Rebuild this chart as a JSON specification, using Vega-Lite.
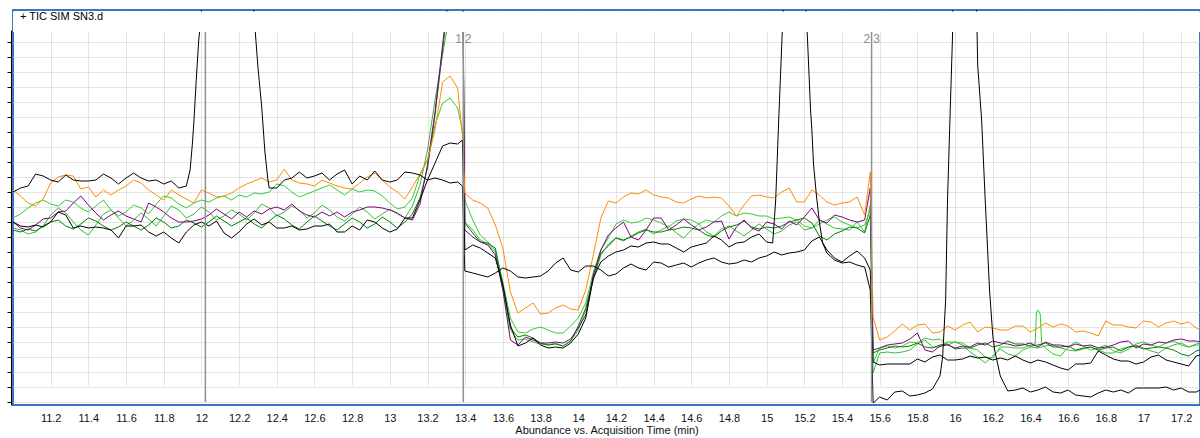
{
"$schema": "https://vega.github.io/schema/vega-lite/v6.json",
"width": 1187, "height": 395,
"autosize": {"type": "none"},
"padding": {"left": 13, "top": 10, "right": 0, "bottom": 33},
"background": "white",
"config": {"view": {"stroke": "#3d72c6", "strokeWidth": 2}, "font": "Liberation Sans"},
"datasets": {
"tr": [
{"t":11.00,"a":210,"b":180,"o":212,"p":180,"g":184,"h":174,"d":172},
{"t":11.04,"a":214,"b":176,"o":206,"p":174,"g":188,"h":172,"d":170},
{"t":11.08,"a":216,"b":175,"o":199,"p":172,"g":194,"h":168,"d":173},
{"t":11.12,"a":228,"b":177,"o":196,"p":177,"g":199,"h":170,"d":171},
{"t":11.16,"a":226,"b":175,"o":203,"p":183,"g":202,"h":176,"d":176},
{"t":11.20,"a":222,"b":180,"o":219,"p":184,"g":198,"h":187,"d":180},
{"t":11.24,"a":220,"b":190,"o":225,"p":190,"g":196,"h":194,"d":182},
{"t":11.28,"a":227,"b":187,"o":227,"p":191,"g":202,"h":189,"d":176},
{"t":11.32,"a":222,"b":174,"o":226,"p":199,"g":200,"h":180,"d":173},
{"t":11.36,"a":221,"b":176,"o":213,"p":206,"g":194,"h":172,"d":178},
{"t":11.40,"a":221,"b":174,"o":215,"p":197,"g":190,"h":167,"d":184},
{"t":11.44,"a":222,"b":175,"o":205,"p":189,"g":196,"h":177,"d":181},
{"t":11.48,"a":228,"b":174,"o":212,"p":182,"g":202,"h":188,"d":176},
{"t":11.52,"a":224,"b":172,"o":207,"p":187,"g":192,"h":192,"d":172},
{"t":11.56,"a":218,"b":164,"o":212,"p":191,"g":186,"h":184,"d":175},
{"t":11.60,"a":224,"b":176,"o":216,"p":186,"g":190,"h":176,"d":180},
{"t":11.64,"a":229,"b":176,"o":222,"p":183,"g":197,"h":182,"d":176},
{"t":11.68,"a":224,"b":177,"o":219,"p":180,"g":194,"h":189,"d":172},
{"t":11.72,"a":221,"b":170,"o":212,"p":199,"g":188,"h":183,"d":177},
{"t":11.76,"a":222,"b":166,"o":207,"p":195,"g":198,"h":176,"d":184},
{"t":11.80,"a":218,"b":170,"o":202,"p":190,"g":206,"h":186,"d":180},
{"t":11.84,"a":221,"b":164,"o":212,"p":184,"g":204,"h":196,"d":174},
{"t":11.88,"a":214,"b":159,"o":207,"p":180,"g":198,"h":192,"d":176},
{"t":11.92,"a":216,"b":170,"o":203,"p":180,"g":194,"h":184,"d":182},
{"t":11.96,"a":280,"b":177,"o":199,"p":181,"g":199,"h":188,"d":179},
{"t":12.00,"a":390,"b":180,"o":212,"p":183,"g":202,"h":195,"d":175},
{"t":12.04,"a":600,"b":176,"o":209,"p":187,"g":200,"h":190,"d":180},
{"t":12.08,"a":800,"b":181,"o":205,"p":193,"g":204,"h":182,"d":186},
{"t":12.12,"a":900,"b":169,"o":206,"p":188,"g":206,"h":186,"d":181},
{"t":12.16,"a":850,"b":164,"o":209,"p":183,"g":202,"h":192,"d":176},
{"t":12.20,"a":700,"b":170,"o":214,"p":190,"g":207,"h":188,"d":180},
{"t":12.24,"a":520,"b":178,"o":218,"p":185,"g":205,"h":182,"d":184},
{"t":12.28,"a":385,"b":183,"o":221,"p":191,"g":209,"h":189,"d":178},
{"t":12.32,"a":295,"b":177,"o":224,"p":188,"g":208,"h":198,"d":174},
{"t":12.36,"a":214,"b":180,"o":220,"p":193,"g":210,"h":194,"d":181},
{"t":12.40,"a":214,"b":174,"o":222,"p":195,"g":218,"h":186,"d":187},
{"t":12.44,"a":222,"b":174,"o":233,"p":192,"g":216,"h":190,"d":183},
{"t":12.48,"a":224,"b":176,"o":222,"p":198,"g":210,"h":196,"d":177},
{"t":12.52,"a":230,"b":172,"o":219,"p":191,"g":205,"h":192,"d":173},
{"t":12.56,"a":224,"b":173,"o":218,"p":187,"g":208,"h":184,"d":180},
{"t":12.60,"a":226,"b":176,"o":216,"p":185,"g":211,"h":189,"d":186},
{"t":12.64,"a":229,"b":176,"o":222,"p":190,"g":214,"h":197,"d":181},
{"t":12.68,"a":222,"b":178,"o":219,"p":186,"g":217,"h":192,"d":176},
{"t":12.72,"a":228,"b":170,"o":216,"p":190,"g":212,"h":185,"d":172},
{"t":12.76,"a":232,"b":170,"o":214,"p":185,"g":207,"h":181,"d":178},
{"t":12.80,"a":218,"b":176,"o":213,"p":190,"g":213,"h":188,"d":184},
{"t":12.84,"a":226,"b":172,"o":219,"p":192,"g":210,"h":195,"d":180},
{"t":12.88,"a":222,"b":182,"o":225,"p":195,"g":212,"h":190,"d":174},
{"t":12.92,"a":231,"b":180,"o":229,"p":195,"g":211,"h":183,"d":178},
{"t":12.96,"a":222,"b":174,"o":222,"p":194,"g":206,"h":188,"d":185},
{"t":13.00,"a":220,"b":170,"o":215,"p":192,"g":199,"h":193,"d":180},
{"t":13.04,"a":222,"b":173,"o":210,"p":189,"g":193,"h":188,"d":174},
{"t":13.08,"a":230,"b":184,"o":203,"p":184,"g":195,"h":184,"d":180},
{"t":13.12,"a":229,"b":184,"o":215,"p":182,"g":204,"h":196,"d":188},
{"t":13.16,"a":227,"b":202,"o":228,"p":198,"g":227,"h":217,"d":204},
{"t":13.20,"a":222,"b":222,"o":242,"p":237,"g":242,"h":252,"d":234},
{"t":13.24,"a":224,"b":239,"o":272,"p":290,"g":277,"h":302,"d":287},
{"t":13.28,"a":222,"b":256,"o":320,"p":357,"g":299,"h":347,"d":352},
{"t":13.32,"a":219,"b":259,"o":326,"p":422,"g":304,"h":392,"d":417},
{"t":13.36,"a":220,"b":258,"o":314,"p":462,"g":294,"h":432,"d":452},
{"t":13.385,"a":216,"b":262,"o":267,"p":482,"g":272,"h":452,"d":472},
{"t":13.398,"o":209,"g":202,"h":180,"p":172,"d":179,"a":131,"b":152},
{"t":13.44,"o":202,"g":182,"h":172,"p":165,"d":169,"a":129,"b":157},
{"t":13.48,"o":199,"g":167,"h":162,"p":160,"d":160,"a":127,"b":154},
{"t":13.52,"o":194,"g":160,"h":158,"p":157,"d":159,"a":125,"b":149},
{"t":13.56,"o":177,"g":152,"h":150,"p":147,"d":154,"a":129,"b":144},
{"t":13.60,"o":154,"g":120,"h":112,"p":112,"d":117,"a":134,"b":117},
{"t":13.64,"o":110,"g":84,"h":72,"p":62,"d":74,"a":131,"b":77},
{"t":13.68,"o":89,"g":70,"h":62,"p":57,"d":65,"a":125,"b":56},
{"t":13.72,"o":94,"g":69,"h":63,"p":65,"d":67,"a":124,"b":59},
{"t":13.76,"o":99,"g":73,"h":60,"p":62,"d":64,"a":125,"b":64},
{"t":13.80,"o":88,"g":75,"h":58,"p":59,"d":59,"a":126,"b":57},
{"t":13.84,"o":89,"g":72,"h":57,"p":59,"d":57,"a":131,"b":54},
{"t":13.88,"o":94,"g":69,"h":59,"p":60,"d":58,"a":139,"b":55},
{"t":13.92,"o":97,"g":69,"h":56,"p":59,"d":56,"a":144,"b":54},
{"t":13.96,"o":93,"g":76,"h":61,"p":63,"d":61,"a":132,"b":59},
{"t":14.00,"o":92,"g":84,"h":72,"p":74,"d":76,"a":130,"b":68},
{"t":14.04,"o":112,"g":99,"h":92,"p":87,"d":94,"a":136,"b":84},
{"t":14.08,"o":147,"g":130,"h":122,"p":127,"d":124,"a":136,"b":124},
{"t":14.12,"o":184,"g":152,"h":147,"p":152,"d":149,"a":132,"b":140},
{"t":14.16,"o":201,"g":164,"h":158,"p":167,"d":156,"a":126,"b":146},
{"t":14.20,"o":199,"g":178,"h":164,"p":174,"d":164,"a":128,"b":150},
{"t":14.24,"o":205,"g":182,"h":161,"p":180,"d":162,"a":134,"b":152},
{"t":14.28,"o":209,"g":179,"h":166,"p":165,"d":165,"a":138,"b":156},
{"t":14.32,"o":208,"g":180,"h":170,"p":162,"d":169,"a":134,"b":155},
{"t":14.36,"o":212,"g":184,"h":173,"p":172,"d":172,"a":132,"b":159},
{"t":14.40,"o":207,"g":182,"h":168,"p":184,"d":170,"a":140,"b":160},
{"t":14.44,"o":205,"g":179,"h":172,"p":184,"d":170,"a":139,"b":158},
{"t":14.48,"o":204,"g":175,"h":176,"p":172,"d":172,"a":135,"b":158},
{"t":14.52,"o":200,"g":181,"h":169,"p":177,"d":173,"a":137,"b":154},
{"t":14.56,"o":199,"g":183,"h":164,"p":183,"d":175,"a":139,"b":150},
{"t":14.60,"o":203,"g":182,"h":172,"p":177,"d":174,"a":135,"b":155},
{"t":14.64,"o":206,"g":178,"h":178,"p":172,"d":172,"a":139,"b":157},
{"t":14.68,"o":204,"g":182,"h":170,"p":175,"d":167,"a":142,"b":159},
{"t":14.72,"o":205,"g":180,"h":166,"p":180,"d":165,"a":144,"b":166},
{"t":14.76,"o":204,"g":186,"h":173,"p":181,"d":171,"a":140,"b":162},
{"t":14.80,"o":196,"g":190,"h":176,"p":163,"d":175,"a":138,"b":155},
{"t":14.84,"o":186,"g":186,"h":171,"p":175,"d":177,"a":139,"b":159},
{"t":14.88,"o":197,"g":189,"h":166,"p":182,"d":181,"a":142,"b":160},
{"t":14.92,"o":206,"g":188,"h":172,"p":174,"d":175,"a":140,"b":165},
{"t":14.96,"o":207,"g":186,"h":178,"p":171,"d":173,"a":144,"b":168},
{"t":15.00,"o":205,"g":186,"h":173,"p":180,"d":175,"a":146,"b":160},
{"t":15.04,"o":204,"g":183,"h":168,"p":178,"d":174,"a":150,"b":180},
{"t":15.08,"o":210,"g":184,"h":171,"p":173,"d":176,"a":147,"b":357},
{"t":15.12,"o":214,"g":185,"h":177,"p":181,"d":180,"a":149,"b":600},
{"t":15.16,"o":200,"g":182,"h":180,"p":177,"d":182,"a":150,"b":700},
{"t":15.20,"o":200,"g":176,"h":172,"p":185,"d":184,"a":152,"b":422},
{"t":15.24,"o":212,"g":174,"h":174,"p":194,"d":179,"a":161,"b":272},
{"t":15.28,"o":207,"g":178,"h":182,"p":182,"d":166,"a":165,"b":180},
{"t":15.32,"o":200,"g":182,"h":178,"p":179,"d":162,"a":152,"b":149},
{"t":15.36,"o":197,"g":185,"h":174,"p":187,"d":168,"a":144,"b":142},
{"t":15.40,"o":199,"g":180,"h":173,"p":185,"d":171,"a":140,"b":139},
{"t":15.44,"o":200,"g":177,"h":172,"p":182,"d":175,"a":146,"b":140},
{"t":15.48,"o":205,"g":174,"h":180,"p":180,"d":174,"a":151,"b":137},
{"t":15.52,"o":187,"g":177,"h":170,"p":182,"d":169,"a":144,"b":135},
{"t":15.55,"o":230,"g":192,"h":197,"p":214,"d":187,"a":132,"b":112},
{"t":15.565,"o":85,"p":52,"g":39,"h":29,"d":49,"a":40,"b":-1},
{"t":15.60,"o":62,"p":54,"g":54,"h":49,"d":52,"a":37,"b":5},
{"t":15.64,"o":65,"p":57,"g":56,"h":50,"d":54,"a":38,"b":2},
{"t":15.68,"o":71,"p":58,"g":54,"h":49,"d":56,"a":38,"b":10},
{"t":15.72,"o":78,"p":59,"g":56,"h":50,"d":55,"a":38,"b":11},
{"t":15.76,"o":72,"p":63,"g":60,"h":52,"d":56,"a":38,"b":6},
{"t":15.80,"o":77,"p":69,"g":59,"h":58,"d":59,"a":43,"b":7},
{"t":15.84,"o":78,"p":52,"g":64,"h":62,"d":55,"a":40,"b":9},
{"t":15.88,"o":69,"p":50,"g":62,"h":55,"d":54,"a":45,"b":13},
{"t":15.92,"o":70,"p":56,"g":63,"h":55,"d":57,"a":47,"b":26},
{"t":15.96,"o":76,"p":57,"g":57,"h":60,"d":58,"a":42,"b":202},
{"t":16.00,"o":72,"p":54,"g":60,"h":60,"d":53,"a":42,"b":700},
{"t":16.04,"o":77,"p":56,"g":59,"h":57,"d":54,"a":43,"b":800},
{"t":16.08,"o":80,"p":55,"g":54,"h":50,"d":54,"a":46,"b":750},
{"t":16.12,"o":70,"p":59,"g":52,"h":45,"d":57,"a":44,"b":337},
{"t":16.16,"o":75,"p":57,"g":45,"h":39,"d":59,"a":45,"b":202},
{"t":16.20,"o":74,"p":61,"g":44,"h":46,"d":55,"a":42,"b":67},
{"t":16.24,"o":72,"p":59,"g":55,"h":53,"d":57,"a":44,"b":26},
{"t":16.28,"o":72,"p":58,"g":55,"h":48,"d":61,"a":42,"b":11},
{"t":16.32,"o":76,"p":56,"g":54,"h":46,"d":58,"a":46,"b":12},
{"t":16.36,"o":76,"p":57,"g":54,"h":52,"d":58,"a":42,"b":14},
{"t":16.40,"o":70,"p":59,"g":57,"h":55,"d":56,"a":39,"b":10},
{"t":16.44,"o":74,"p":55,"g":92,"h":54,"d":57,"a":42,"b":12},
{"t":16.48,"o":79,"p":60,"g":54,"h":56,"d":59,"a":40,"b":15},
{"t":16.52,"o":75,"p":57,"g":48,"h":57,"d":55,"a":37,"b":10},
{"t":16.56,"o":78,"p":57,"g":46,"h":54,"d":55,"a":34,"b":9},
{"t":16.60,"o":76,"p":55,"g":55,"h":52,"d":56,"a":32,"b":12},
{"t":16.64,"o":70,"p":58,"g":60,"h":51,"d":52,"a":38,"b":7},
{"t":16.68,"o":71,"p":56,"g":56,"h":53,"d":54,"a":38,"b":6},
{"t":16.72,"o":69,"p":57,"g":52,"h":55,"d":55,"a":39,"b":5},
{"t":16.76,"o":66,"p":54,"g":54,"h":52,"d":52,"a":51,"b":9},
{"t":16.80,"o":81,"p":55,"g":57,"h":49,"d":54,"a":47,"b":12},
{"t":16.84,"o":77,"p":57,"g":51,"h":49,"d":55,"a":43,"b":10},
{"t":16.88,"o":77,"p":60,"g":49,"h":53,"d":51,"a":41,"b":12},
{"t":16.92,"o":75,"p":61,"g":53,"h":55,"d":55,"a":41,"b":9},
{"t":16.96,"o":74,"p":54,"g":58,"h":57,"d":56,"a":38,"b":14},
{"t":17.00,"o":81,"p":58,"g":60,"h":54,"d":53,"a":40,"b":14},
{"t":17.04,"o":80,"p":57,"g":57,"h":51,"d":54,"a":45,"b":14},
{"t":17.08,"o":75,"p":60,"g":55,"h":49,"d":55,"a":47,"b":14},
{"t":17.12,"o":79,"p":59,"g":59,"h":54,"d":54,"a":42,"b":15},
{"t":17.16,"o":81,"p":62,"g":61,"h":57,"d":52,"a":40,"b":12},
{"t":17.20,"o":78,"p":63,"g":57,"h":59,"d":48,"a":38,"b":14},
{"t":17.24,"o":80,"p":61,"g":55,"h":55,"d":46,"a":36,"b":10},
{"t":17.28,"o":74,"p":61,"g":57,"h":58,"d":51,"a":46,"b":10},
{"t":17.30,"o":72,"p":60,"g":57,"h":59,"d":52,"a":47,"b":12},
{"t":11.94,"a":232},{"t":11.952,"a":258},{"t":11.972,"a":320},{"t":11.985,"a":360},
{"t":12.30,"a":335},{"t":12.337,"a":250},{"t":12.353,"a":222},
{"t":15.032,"b":159},{"t":15.048,"b":202},{"t":15.064,"b":282},{"t":15.096,"b":432},
{"t":15.217,"b":362},{"t":15.233,"b":292},{"t":15.249,"b":237},{"t":15.265,"b":205},{"t":15.297,"b":159},
{"t":15.934,"b":45},{"t":15.95,"b":102},{"t":15.976,"b":302},{"t":15.987,"b":369},
{"t":16.141,"b":282},{"t":16.183,"b":112},{"t":16.21,"b":52},
{"t":16.425,"g":58},{"t":16.432,"g":90},{"t":16.452,"g":88},{"t":16.46,"g":58}
],
"ann": [{"t":12.021},{"t":13.39},{"t":15.557}]
},
"layer": [
{
"data": {"name": "tr"},
"transform": [{"fold": ["g","h","d","p","o","b","a"], "as": ["k","v"]}, {"filter": "isValid(datum.v)"}],
"mark": {"type": "line", "strokeWidth": 1, "clip": true},
"encoding": {
"x": {"field": "t", "type": "quantitative", "title": "Abundance vs. Acquisition Time (min)",
"scale": {"domain": [11, 17.3], "nice": false, "zero": false},
"axis": {"values": [11.2,11.4,11.6,11.8,12,12.2,12.4,12.6,12.8,13,13.2,13.4,13.6,13.8,14,14.2,14.4,14.6,14.8,15,15.2,15.4,15.6,15.8,16,16.2,16.4,16.6,16.8,17,17.2],
"tickCount": 200, "format": "~g", "labelFontSize": 11, "labelColor": "#111", "labelPadding": 7, "labelOverlap": false, "labelFlush": false,
"ticks": false, "tickSize": 0, "domain": false, "grid": true, "gridColor": "#c8c8c8", "gridDash": [1,1],
"titleFontSize": 11, "titleFontWeight": "normal", "titleColor": "#111", "titlePadding": 1}},
"y": {"field": "v", "type": "quantitative", "title": null,
"scale": {"domain": [-3, 372], "range": [395, 20], "nice": false, "zero": false},
"axis": {"values": [0,15,30,45,60,75,90,105,120,135,150,165,180,195,210,225,240,255,270,285,300,315,330,345,360],
"tickCount": 200, "labels": false, "title": null, "domainColor": "#000", "tickColor": "#000", "tickSize": 4, "offset": 2,
"grid": true, "gridColor": "#c8c8c8", "gridDash": [1,1]}},
"color": {"field": "k", "type": "nominal", "legend": null,
"scale": {"domain": ["a","b","o","p","g","h","d"], "range": ["#000000","#000000","#ff8c00","#800080","#32cd32","#3cb83c","#008000"]}}
}
},
{
"data": {"name": "ann"},
"mark": {"type": "rule", "color": "#909090", "strokeWidth": 1.5},
"encoding": {"x": {"field": "t", "type": "quantitative", "title": "Abundance vs. Acquisition Time (min)"}, "y": {"datum": 0}, "y2": {"datum": 372}}
},
{
"data": {"values": [{}]},
"mark": {"type": "rect", "fill": "white", "clip": true},
"encoding": {"x": {"datum": 11}, "x2": {"datum": 17.3}, "y": {"datum": 370}, "y2": {"datum": 390.5}}
},
{
"data": {"values": [{}]},
"mark": {"type": "text", "align": "left", "baseline": "middle", "fontSize": 11, "color": "#000"},
"encoding": {"x": {"datum": 11.037}, "y": {"datum": 385}, "text": {"value": "+ TIC SIM SN3.d"}}
},
{
"data": {"values": [{}]},
"mark": {"type": "text", "align": "right", "baseline": "middle", "fontSize": 12, "color": "#8a8a8a"},
"encoding": {"x": {"datum": 13.383}, "y": {"datum": 363}, "text": {"value": "1"}}
},
{
"data": {"values": [{}]},
"mark": {"type": "text", "align": "left", "baseline": "middle", "fontSize": 12, "color": "#8a8a8a"},
"encoding": {"x": {"datum": 13.398}, "y": {"datum": 363}, "text": {"value": "2"}}
},
{
"data": {"values": [{}]},
"mark": {"type": "text", "align": "right", "baseline": "middle", "fontSize": 12, "color": "#8a8a8a"},
"encoding": {"x": {"datum": 15.549}, "y": {"datum": 363}, "text": {"value": "2"}}
},
{
"data": {"values": [{}]},
"mark": {"type": "text", "align": "left", "baseline": "middle", "fontSize": 12, "color": "#8a8a8a"},
"encoding": {"x": {"datum": 15.566}, "y": {"datum": 363}, "text": {"value": "3"}}
}
]
}
